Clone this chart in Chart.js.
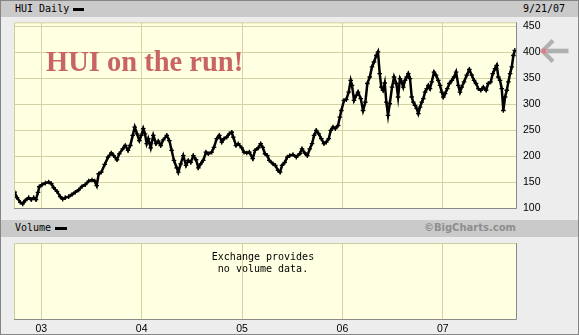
<!DOCTYPE html>
<html><head><meta charset="utf-8">
<script src="https://cdn.jsdelivr.net/npm/chart.js@4.4.1/dist/chart.umd.min.js"></script>
<style>
html,body{margin:0;padding:0;background:#ededed;}
#wrap{position:relative;width:579px;height:335px;overflow:hidden;background:#ededed;}
#frame{position:absolute;left:0;top:0;width:577px;height:333px;border:1px solid #858585;pointer-events:none;z-index:5;}
.bar{position:absolute;left:0;width:579px;background:#cacaca;}
.mono{position:absolute;font-family:"DejaVu Sans Mono",monospace;font-size:10px;line-height:12px;color:#000;white-space:pre;}
.dash{position:absolute;height:3px;background:#000;}
canvas{position:absolute;left:0;}
#title{position:absolute;left:46px;top:48px;font-family:"Liberation Serif",serif;font-weight:bold;font-size:28.5px;line-height:28.5px;color:#c86464;white-space:pre;z-index:3;}
#copy{position:absolute;right:63px;top:222px;font-family:"DejaVu Sans",sans-serif;font-weight:bold;font-size:10px;line-height:12px;color:#8e8e8e;}
#novol{position:absolute;left:163px;top:251px;width:200px;text-align:center;z-index:3;}
#arrow{position:absolute;left:536px;top:36px;}
</style></head>
<body><div id="wrap">
<div class="bar" style="top:0;height:17px"></div>
<div class="bar" style="top:220px;height:17px"></div>
<canvas id="price" width="579" height="200" style="top:17px"></canvas>
<canvas id="vol" width="579" height="98" style="top:237px"></canvas>
<div class="mono" style="left:15px;top:3px">HUI Daily</div>
<div class="dash" style="left:73px;top:8px;width:11px"></div>
<div class="mono" style="left:523px;top:3px">9/21/07</div>
<div class="mono" style="left:15px;top:222px">Volume</div>
<div class="dash" style="left:55px;top:227px;width:12px"></div>
<div id="copy">©BigCharts.com</div>
<div id="title">HUI on the run!</div>
<div class="mono" id="novol">Exchange provides
no volume data.</div>
<svg id="arrow" width="40" height="30" viewBox="536 36 40 30">
  <rect x="547" y="48.7" width="21.5" height="4.6" fill="#b0b0b0"/>
  <polyline points="553,40.5 542.5,51 553,61.5" fill="none" stroke="#b0b0b0" stroke-width="4.2"/>
  <circle cx="544" cy="51" r="2.6" fill="#e07a84"/>
</svg>
<div id="frame"></div>
</div>
<script>
// decimal year of each reading
const dates = [
2002.735,2002.758,2002.791,2002.815,2002.841,2002.874,2002.900,2002.924,2002.947,2002.967,2002.980,
2003.007,2003.040,2003.074,2003.100,2003.124,2003.156,2003.189,2003.213,2003.239,2003.273,2003.306,
2003.339,2003.373,2003.406,2003.438,2003.472,2003.505,2003.532,2003.552,2003.572,2003.598,2003.632,
2003.665,2003.698,2003.721,2003.754,2003.777,2003.811,2003.837,2003.864,2003.887,2003.911,2003.931,
2003.954,2003.977,2003.997,
2004.016,2004.033,2004.050,2004.066,2004.090,2004.116,2004.143,2004.166,2004.190,2004.216,2004.250,
2004.276,2004.299,2004.322,2004.349,2004.365,2004.389,2004.415,2004.442,2004.465,2004.489,2004.515,
2004.542,2004.565,2004.588,2004.614,2004.641,2004.664,2004.698,2004.721,2004.748,2004.774,2004.798,
2004.821,2004.848,2004.873,2004.897,2004.913,2004.940,2004.963,2004.997,
2005.020,2005.047,2005.073,2005.107,2005.130,2005.162,2005.186,2005.206,2005.229,2005.252,2005.272,
2005.309,2005.332,2005.359,2005.379,2005.399,2005.426,2005.451,2005.475,2005.508,2005.541,2005.575,
2005.598,2005.625,2005.651,2005.675,2005.698,2005.718,2005.740,2005.764,2005.790,2005.817,2005.840,
2005.864,2005.884,2005.907,2005.930,2005.957,2005.974,2005.990,
2006.016,2006.039,2006.063,2006.083,2006.096,2006.116,2006.139,2006.156,2006.183,2006.206,2006.229,
2006.249,2006.273,2006.295,2006.315,2006.338,2006.355,2006.372,2006.388,2006.405,2006.422,2006.438,
2006.455,2006.472,2006.495,2006.515,2006.538,2006.555,2006.574,2006.591,2006.607,2006.624,2006.641,
2006.657,2006.674,2006.691,2006.707,2006.724,2006.741,2006.757,2006.774,2006.791,2006.807,2006.824,
2006.841,2006.857,2006.873,2006.890,2006.913,2006.933,2006.956,2006.973,2006.990,
2007.006,2007.023,2007.046,2007.066,2007.090,2007.113,2007.133,2007.155,2007.172,2007.189,2007.212,
2007.239,2007.265,2007.289,2007.312,2007.332,2007.355,2007.379,2007.405,2007.432,2007.454,2007.478,
2007.498,2007.521,2007.538,2007.554,2007.571,2007.588,2007.604,2007.621,2007.638,2007.654,2007.671,
2007.688,2007.704,2007.718
];
// HUI index close
const hui = [
130.5,120,111,108,114.5,120,116,120,116,130,141,
145,148,150,147,139,132,122,117,120,122,126,
130.5,135,141.5,145,152,154,152,143,166,169,184,
198,206,201,193,204.5,214,220.5,211,220.5,240,256,
243,230,240,
253,243,224,233.5,216,240,224,229,220.5,231.5,240,
230,211,191.7,177.5,169,185,201,182,191.7,188,201,
193,177.5,185,191.7,207.7,204.6,207.7,217,233.6,240,227,
233.6,236.7,243,246,236.7,220.5,224,216,
207.7,206,207.7,195,211,216,224,217,204.6,201,191.7,
185,182,172.4,169,182,188,198,201,203,198,204.6,
214,206,201,214,224,240,249.6,243,233.6,224,227,
233.6,249.6,256,253,259,275,288,
307.5,309,323.5,346,336.5,307.5,317,323.5,311,288,304,
340,352.5,372,381.5,394,400.8,359,333,327,341,304,
278.5,301,333,352.5,340,314,349.5,343,333,346,352.5,
359,349.5,314,304,298,291.5,282,294.6,304,311,323.5,
330,336.5,330,343,362,356,346,336.5,323.5,
314,320.5,330,340,346,352.5,362,336.5,323.5,333,343,
356,367,356,346,340,330,327,333,327,340,343,
359,368.7,375,352.5,346,330,288,314,327,343,359,
372,394,404
];
const yearTicks = [2003, 2004, 2005, 2006, 2007];
const yearLabels = ['03', '04', '05', '06', '07'];
const priceTicks = [100, 150, 200, 250, 300, 350, 400, 450];

const X_MIN = 2002.728, X_MAX = 2007.730;
const PLOT_BG = '#ffffe2', GRID = '#d5d2a4';
const tickFont = {family: '"Liberation Sans", Arial, sans-serif', size: 10.5};

const noPad = s => { s.paddingTop = 0; s.paddingBottom = 0; s.paddingLeft = 0; s.paddingRight = 0; };

const panelPlugin = {
  id: 'panel',
  beforeDraw(chart) {
    const {ctx, chartArea: a} = chart;
    ctx.save(); ctx.fillStyle = PLOT_BG;
    ctx.fillRect(a.left, a.top, a.right - a.left, a.bottom - a.top);
    ctx.restore();
  },
  afterDraw(chart) {
    const {ctx, chartArea: a} = chart;
    ctx.save(); ctx.lineWidth = 1;
    ctx.strokeStyle = '#cfcca0';
    ctx.beginPath(); ctx.moveTo(a.left + .5, a.bottom); ctx.lineTo(a.left + .5, a.top + .5); ctx.lineTo(a.right, a.top + .5); ctx.stroke();
    ctx.strokeStyle = '#8a8a8a';
    ctx.beginPath(); ctx.moveTo(a.left, a.bottom + .5); ctx.lineTo(a.right + .5, a.bottom + .5); ctx.lineTo(a.right + .5, a.top); ctx.stroke();
    ctx.restore();
  }
};

Chart.defaults.animation = false;

new Chart(document.getElementById('price'), {
  type: 'line',
  data: {datasets: [{
    data: dates.map((d, i) => ({x: d, y: hui[i]})),
    borderColor: '#000', borderWidth: 2.5, tension: 0,
    pointStyle: 'cross', pointRadius: 2.3, pointBorderWidth: 1.3,
    pointBorderColor: '#000', pointBackgroundColor: '#000'
  }]},
  options: {
    responsive: false, devicePixelRatio: 1,
    layout: {padding: {left: 14, top: 5, right: 0, bottom: 9}},
    plugins: {legend: {display: false}, tooltip: {enabled: false}},
    scales: {
      x: {type: 'linear', min: X_MIN, max: X_MAX,
        afterBuildTicks: s => { s.ticks = yearTicks.map(v => ({value: v})); },
        afterFit: s => { s.height = 0; noPad(s); },
        ticks: {display: false},
        grid: {color: GRID, drawTicks: false}, border: {display: false}},
      y: {position: 'right', min: 100, max: 458,
        afterBuildTicks: s => { s.ticks = priceTicks.map(v => ({value: v})); },
        afterFit: s => { s.width = 63; noPad(s); },
        ticks: {padding: 7, color: '#000', font: tickFont},
        grid: {color: GRID, drawTicks: false}, border: {display: false}}
    }
  },
  plugins: [panelPlugin]
});

new Chart(document.getElementById('vol'), {
  type: 'line',
  data: {datasets: [{data: []}]},
  options: {
    responsive: false, devicePixelRatio: 1,
    layout: {padding: {left: 14, top: 6, right: 63, bottom: 0}},
    plugins: {legend: {display: false}, tooltip: {enabled: false}},
    scales: {
      x: {type: 'linear', min: X_MIN, max: X_MAX,
        afterBuildTicks: s => { s.ticks = yearTicks.map(v => ({value: v})); },
        afterFit: s => { s.height = 16; noPad(s); },
        ticks: {padding: 4, color: '#000', font: tickFont, maxRotation: 0,
          callback: (v) => yearLabels[yearTicks.indexOf(v)]},
        grid: {color: GRID, drawTicks: false}, border: {display: false}},
      y: {display: false, min: 0, max: 1}
    }
  },
  plugins: [panelPlugin]
});
</script>
</body></html>
